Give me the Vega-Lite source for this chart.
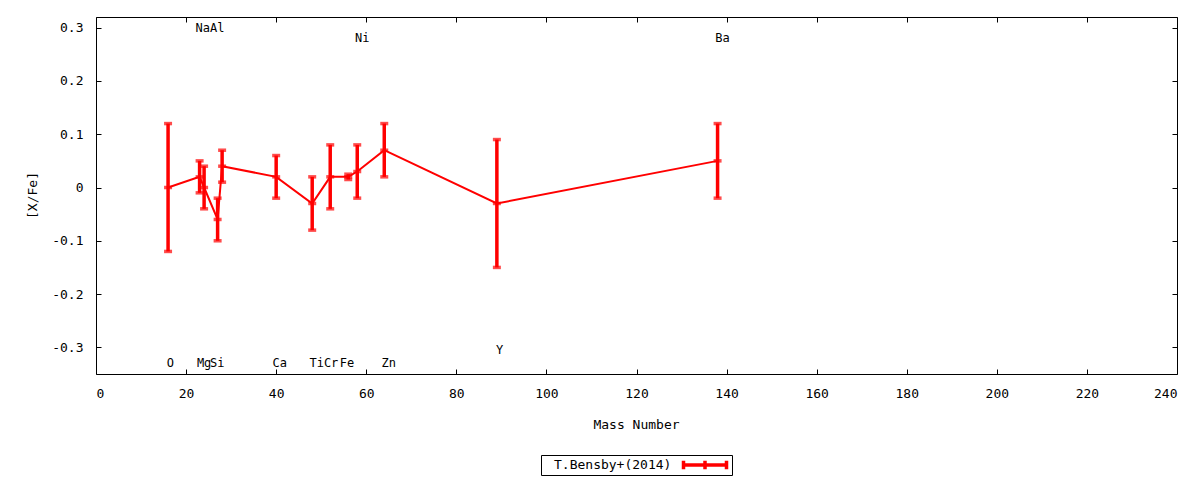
{
  "$schema": "https://vega.github.io/schema/vega-lite/v6.json",
  "width": 1081,
  "height": 357,
  "autosize": {"type": "none"},
  "padding": {"left": 96, "top": 17, "right": 23, "bottom": 106},
  "background": "white",
  "datasets": {
    "bensby": [
      {"el": "O", "mass": 16, "val": 0.00, "err": 0.12, "src": "T.Bensby+(2014)"},
      {"el": "Na", "mass": 23, "val": 0.02, "err": 0.03, "src": "T.Bensby+(2014)"},
      {"el": "Mg", "mass": 24, "val": 0.00, "err": 0.04, "src": "T.Bensby+(2014)"},
      {"el": "Al", "mass": 27, "val": -0.06, "err": 0.04, "src": "T.Bensby+(2014)"},
      {"el": "Si", "mass": 28, "val": 0.04, "err": 0.03, "src": "T.Bensby+(2014)"},
      {"el": "Ca", "mass": 40, "val": 0.02, "err": 0.04, "src": "T.Bensby+(2014)"},
      {"el": "Ti", "mass": 48, "val": -0.03, "err": 0.05, "src": "T.Bensby+(2014)"},
      {"el": "Cr", "mass": 52, "val": 0.02, "err": 0.06, "src": "T.Bensby+(2014)"},
      {"el": "Fe", "mass": 56, "val": 0.02, "err": 0.005, "src": "T.Bensby+(2014)"},
      {"el": "Ni", "mass": 58, "val": 0.03, "err": 0.05, "src": "T.Bensby+(2014)"},
      {"el": "Zn", "mass": 64, "val": 0.07, "err": 0.05, "src": "T.Bensby+(2014)"},
      {"el": "Y", "mass": 89, "val": -0.03, "err": 0.12, "src": "T.Bensby+(2014)"},
      {"el": "Ba", "mass": 138, "val": 0.05, "err": 0.07, "src": "T.Bensby+(2014)"}
    ],
    "labels": [
      {"el": "O", "lx": 16.5, "ly": -0.33},
      {"el": "Na", "lx": 23.7, "ly": 0.30},
      {"el": "Mg", "lx": 24.0, "ly": -0.33},
      {"el": "Al", "lx": 26.9, "ly": 0.30},
      {"el": "Si", "lx": 26.9, "ly": -0.33},
      {"el": "Ca", "lx": 40.8, "ly": -0.33},
      {"el": "Ti", "lx": 49.0, "ly": -0.33},
      {"el": "Cr", "lx": 52.2, "ly": -0.33},
      {"el": "Fe", "lx": 55.7, "ly": -0.33},
      {"el": "Ni", "lx": 59.1, "ly": 0.28},
      {"el": "Zn", "lx": 65.0, "ly": -0.33},
      {"el": "Y", "lx": 89.6, "ly": -0.305},
      {"el": "Ba", "lx": 139.1, "ly": 0.28}
    ]
  },
  "resolve": {"axis": {"x": "independent", "y": "independent"}},
  "layer": [
    {
      "data": {"name": "bensby"},
      "mark": {"type": "errorbar", "color": "#ff0000", "thickness": 3.5,
               "ticks": {"size": 8, "thickness": 3.5, "color": "#ff0000"}},
      "encoding": {
        "x": {"field": "mass", "type": "quantitative",
              "scale": {"domain": [0, 240], "nice": false, "zero": false},
              "axis": {"values": [0, 20, 40, 60, 80, 100, 120, 140, 160, 180, 200, 220, 240],
                       "format": "d", "title": "Mass Number",
                       "titleX": 540, "titleY": 50, "titleBaseline": "middle"}},
        "y": {"field": "val", "type": "quantitative",
              "scale": {"domain": [-0.35, 0.32], "nice": false, "zero": false},
              "axis": {"values": [-0.3, -0.2, -0.1, 0, 0.1, 0.2, 0.3],
                       "labelExpr": "toString(round(datum.value * 10) / 10)",
                       "title": "[X/Fe]", "titleAngle": 270,
                       "titleX": -64, "titleY": 178, "titleAlign": "center", "titleBaseline": "middle"}},
        "yError": {"field": "err"}
      }
    },
    {
      "data": {"name": "bensby"},
      "mark": {"type": "line", "strokeWidth": 2},
      "encoding": {
        "x": {"field": "mass", "type": "quantitative", "axis": null},
        "y": {"field": "val", "type": "quantitative", "axis": null},
        "stroke": {"field": "src", "type": "nominal",
                   "scale": {"domain": ["T.Bensby+(2014)"], "range": ["#ff0000"]},
                   "legend": {"title": "T.Bensby+(2014)", "titleOrient": "left",
                              "orient": "none", "legendX": 445, "legendY": 438,
                              "labelExpr": "''", "labelOffset": 0, "labelFontSize": 1,
                              "symbolType": "M-4.3,0H4.3M-4.3,-0.85V0.85M4.3,-0.85V0.85M0,-0.85V0.85",
                              "symbolSize": 100, "symbolStrokeWidth": 3.5, "symbolOffset": 8,
                              "symbolFillColor": "transparent",
                              "encode": {"symbols": {"update": {"strokeJoin": {"value": "round"}}},
                                         "title": {"update": {"dx": {"value": 10}}}},
                              "strokeColor": "black", "padding": 3, "titlePadding": 28}}
      }
    },
    {
      "data": {"name": "bensby"},
      "mark": {"type": "tick", "orient": "horizontal", "size": 8, "thickness": 3.5, "color": "#ff0000"},
      "encoding": {
        "x": {"field": "mass", "type": "quantitative", "axis": null},
        "y": {"field": "val", "type": "quantitative", "axis": null}
      }
    },
    {
      "data": {"name": "labels"},
      "mark": {"type": "text", "font": "DejaVu Sans Mono", "fontSize": 12, "color": "black",
               "align": "center", "baseline": "middle"},
      "encoding": {
        "x": {"field": "lx", "type": "quantitative",
              "axis": {"orient": "top", "labels": false, "title": null,
                       "values": [0, 20, 40, 60, 80, 100, 120, 140, 160, 180, 200, 220, 240]}},
        "y": {"field": "ly", "type": "quantitative",
              "axis": {"orient": "right", "labels": false, "title": null,
                       "values": [-0.3, -0.2, -0.1, 0, 0.1, 0.2, 0.3]}},
        "text": {"field": "el"}
      }
    }
  ],
  "config": {
    "view": {"stroke": "black", "strokeWidth": 1},
    "axis": {
      "grid": false, "domain": false,
      "tickColor": "black", "tickSize": -5, "tickWidth": 1,
      "labelFont": "DejaVu Sans Mono", "labelFontSize": 13, "labelColor": "black",
      "labelPadding": 18,
      "titleFont": "DejaVu Sans Mono", "titleFontSize": 13, "titleFontWeight": "normal", "titleColor": "black"
    },
    "legend": {
      "titleFont": "DejaVu Sans Mono", "titleFontSize": 13, "titleFontWeight": "normal", "titleColor": "black",
      "labelFont": "DejaVu Sans Mono"
    }
  }
}
